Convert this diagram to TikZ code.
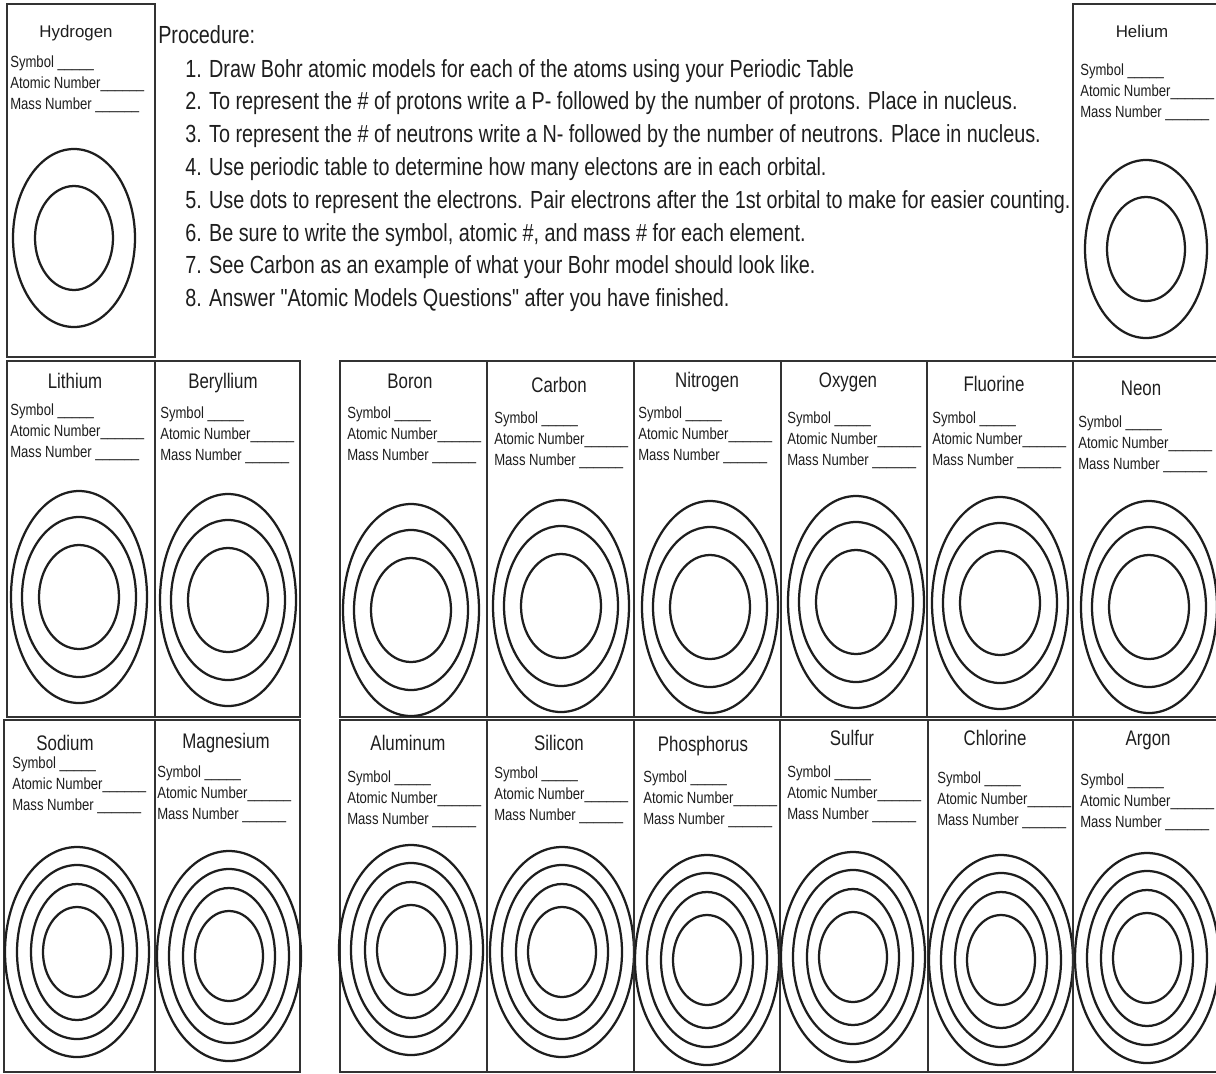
\documentclass[tikz,border=0pt]{standalone}
\usepackage{fontspec}
\setmainfont{Liberation Sans}
\newfontfamily\procfont[FakeStretch=0.8]{Liberation Sans}
\newfontfamily\cellfont[FakeStretch=0.81]{Liberation Sans}
\definecolor{inkgray}{RGB}{30,30,30}
\definecolor{edgegray}{RGB}{50,50,50}

\begin{document}
\begin{tikzpicture}[x=0.025cm, y=-0.025cm,
    cellbox/.style={draw=edgegray, line width=2pt},
    orbit/.style={draw=inkgray, line width=1.6pt},
    topname/.style={font=\fontsize{12}{14}\selectfont, text=inkgray, inner sep=0pt, anchor=base},
    elname/.style={font=\procfont\fontsize{15}{17}\selectfont, text=inkgray, inner sep=0pt, anchor=base},
    blank/.style={font=\cellfont\fontsize{11.5}{13}\selectfont, text=inkgray, inner sep=0pt, anchor=base west},
    steptext/.style={font=\procfont\fontsize{17.6}{21}\selectfont, text=inkgray, inner sep=0pt, anchor=base west}
  ]
    \fill[white] (0,0) rectangle (1216,1073);
    \useasboundingbox (0,0) rectangle (1216,1073);

    % Procedure list
    \node[steptext] (proc) at (158,43) {Procedure:};
    \foreach \txt [count=\i] in {
        {Draw Bohr atomic models for each of the atoms using your Periodic Table},
        {To represent the \# of protons write a P- followed by the number of protons. Place in nucleus.},
        {To represent the \# of neutrons write a N- followed by the number of neutrons. Place in nucleus.},
        {Use periodic table to determine how many electons are in each orbital.},
        {Use dots to represent the electrons. Pair electrons after the 1st orbital to make for easier counting.},
        {Be sure to write the symbol, atomic \#, and mass \# for each element.},
        {See Carbon as an example of what your Bohr model should look like.},
        {Answer "Atomic Models Questions" after you have finished.}}
      \node[steptext] (step\i) at (185,{77+32.8*(\i-1)}) {\i. \txt};

    % Row 1: hydrogen and helium
    \foreach \nm/\xa/\xb/\tx/\ty/\lx/\ly/\cx/\cy in {
        Hydrogen/7/155/76/37/10/67/74/238,
        Helium/1073/1218/1142/37/1080/75/1146/249} {
      \draw[cellbox] (\xa,4) rectangle (\xb,357);
      \node[topname] (name-\nm) at (\tx,\ty) {\nm};
      \node[blank] (sym-\nm) at (\lx,\ly) {Symbol \_\_\_\_\_};
      \node[blank] (atn-\nm) at (\lx,{\ly+21}) {Atomic Number\_\_\_\_\_\_};
      \node[blank] (mas-\nm) at (\lx,{\ly+42}) {Mass Number \_\_\_\_\_\_};
      \draw[orbit] (\cx,\cy) ellipse [x radius=61, y radius=89]
                   (\cx,\cy) ellipse [x radius=39, y radius=52];
    }

    % Row 2: lithium to neon
    \foreach \nm/\xa/\xb/\tx/\ty/\lx/\ly/\cx/\cy in {
        Lithium/7/155/75/388/10/415/79/597,
        Beryllium/155/300/223/388/160/418/228/600,
        Boron/340/487/410/388/347/418/411/610,
        Carbon/487/634/559/392/494/423/561/606,
        Nitrogen/634/781/707/387/638/418/710/607,
        Oxygen/781/927/848/387/787/423/856/602,
        Fluorine/927/1073/994/391/932/423/1000/603,
        Neon/1073/1218/1141/395/1078/427/1149/607} {
      \draw[cellbox] (\xa,361) rectangle (\xb,717);
      \node[elname] (name-\nm) at (\tx,\ty) {\nm};
      \node[blank] (sym-\nm) at (\lx,\ly) {Symbol \_\_\_\_\_};
      \node[blank] (atn-\nm) at (\lx,{\ly+21}) {Atomic Number\_\_\_\_\_\_};
      \node[blank] (mas-\nm) at (\lx,{\ly+42}) {Mass Number \_\_\_\_\_\_};
      \draw[orbit] (\cx,\cy) ellipse [x radius=68, y radius=106]
                   (\cx,\cy) ellipse [x radius=57, y radius=80]
                   (\cx,\cy) ellipse [x radius=40, y radius=52];
    }

    % Row 3: sodium to argon
    \foreach \nm/\xa/\xb/\tx/\ty/\lx/\ly/\cx/\cy in {
        Sodium/4/155/65/750/12/768/77/952,
        Magnesium/155/300/226/748/157/777/229/956,
        Aluminum/340/487/408/750/347/782/411/950,
        Silicon/487/634/559/750/494/778/562/952,
        Phosphorus/634/780/703/751/643/782/707/960,
        Sulfur/780/928/852/745/787/777/853/957,
        Chlorine/928/1073/995/745/937/783/1001/960,
        Argon/1073/1218/1148/745/1080/785/1147/958} {
      \draw[cellbox] (\xa,720) rectangle (\xb,1072);
      \node[elname] (name-\nm) at (\tx,\ty) {\nm};
      \node[blank] (sym-\nm) at (\lx,\ly) {Symbol \_\_\_\_\_};
      \node[blank] (atn-\nm) at (\lx,{\ly+21}) {Atomic Number\_\_\_\_\_\_};
      \node[blank] (mas-\nm) at (\lx,{\ly+42}) {Mass Number \_\_\_\_\_\_};
      \draw[orbit] (\cx,\cy) ellipse [x radius=72, y radius=105]
                   (\cx,\cy) ellipse [x radius=60, y radius=87]
                   (\cx,\cy) ellipse [x radius=46, y radius=68]
                   (\cx,\cy) ellipse [x radius=34, y radius=45];
    }
\end{tikzpicture}
\end{document}
